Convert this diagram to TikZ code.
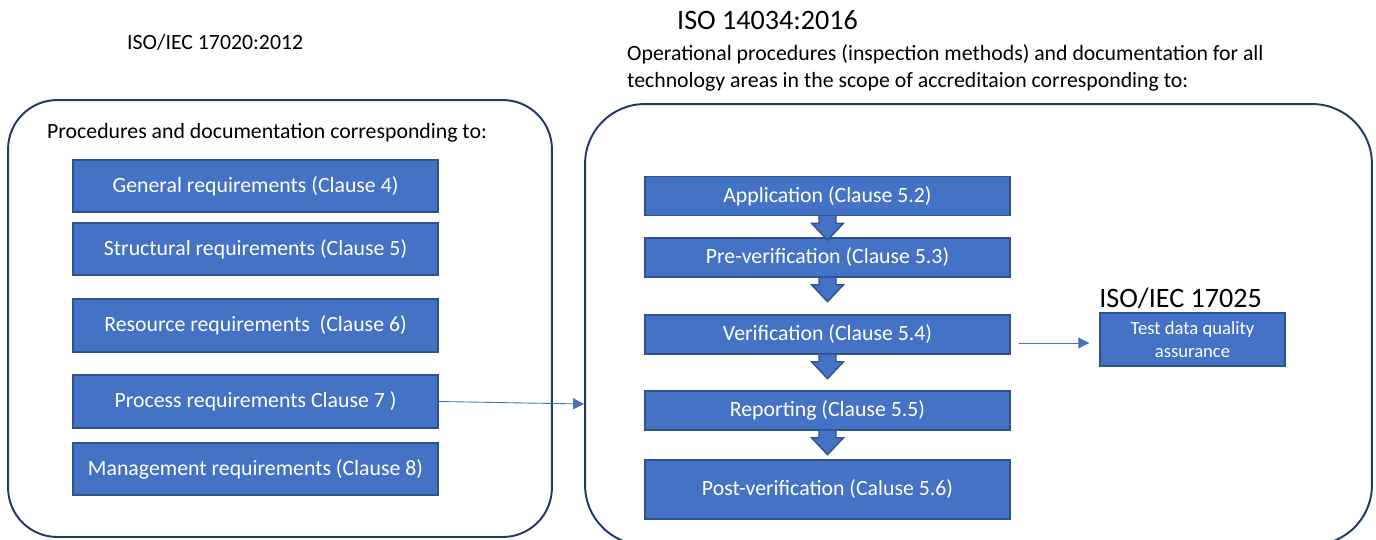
\documentclass[tikz,border=0pt]{standalone}
\usepackage{fontspec}
\setmainfont{Carlito}
\usetikzlibrary{arrows.meta,positioning,calc}
\definecolor{boxFill}{HTML}{4472C4}
\definecolor{boxBd}{HTML}{2F528F}
\definecolor{frameBd}{HTML}{1F3864}
\definecolor{linkLine}{HTML}{4472C4}
\tikzset{
  frame/.style={rectangle, draw=frameBd, line width=1.1pt, rounded corners=28pt},
  clause/.style={
    rectangle, draw=boxBd, fill=boxFill, line width=0.8pt,
    text=white, align=center, font=\fontsize{12.4}{15}\selectfont,
    minimum width=7.3cm, inner sep=2pt
  },
  drop/.style={draw=boxBd, fill=boxFill, line width=0.8pt, line join=miter},
  link/.style={-{Triangle[length=2.2mm,width=2.2mm]}, draw=linkLine, line width=0.5pt},
  head/.style={font=\fontsize{16}{19}\selectfont, anchor=west},
  note/.style={font=\fontsize{12.4}{15.4}\selectfont, anchor=west, align=left}
}
\begin{document}
\begin{tikzpicture}[x=0.02cm, y=-0.02cm]
  \useasboundingbox (0,0) rectangle (1376,539);
  % --- frames
  \node[frame, minimum width=10.88cm, minimum height=8.74cm] (frameA) at (280,318.5) {};
  \node[frame, rounded corners=34pt, minimum width=15.74cm, minimum height=8.82cm] (frameB) at (978.5,324.5) {};

  % --- headings
  \node[note] (isoA) at (121,42) {ISO/IEC 17020:2012};
  \node[head] (isoB) at (671,20) {ISO 14034:2016};
  \node[note] (scopeB) at (621,68) {Operational procedures (inspection methods) and documentation for all\\technology areas in the scope of accreditaion corresponding to:};
  \node[note] (scopeA) at (41,133) {Procedures and documentation corresponding to:};

  % --- left column: ISO/IEC 17020 clauses
  \node[clause, minimum height=1.04cm] (gen) at (255.5,186) {General requirements (Clause 4)};
  \node[clause, minimum height=1.04cm] (str) at (255.5,249) {Structural requirements (Clause 5)};
  \node[clause, minimum height=1.06cm] (res) at (255.5,325.5) {Resource requirements ~(Clause 6)};
  \node[clause, minimum height=1.06cm] (pro) at (255.5,401.5) {Process requirements Clause 7 )};
  \node[clause, minimum height=1.04cm] (man) at (255.5,469) {Management requirements (Clause 8)};

  % --- right column: ISO 14034 steps
  \node[clause, minimum height=0.78cm] (app) at (827.5,196) {Application (Clause 5.2)};
  \node[clause, minimum height=0.78cm] (pre) at (827.5,257.5) {Pre-verification (Clause 5.3)};
  \node[clause, minimum height=0.78cm] (ver) at (827.5,334.5) {Verification (Clause 5.4)};
  \node[clause, minimum height=0.78cm] (rep) at (827.5,410.5) {Reporting (Clause 5.5)};
  \node[clause, minimum height=1.18cm] (pst) at (827.5,489.5) {Post-verification (Caluse 5.6)};

  % --- ISO/IEC 17025
  \node[head, anchor=south west, inner sep=0pt] (isoC) at (1099,309) {ISO/IEC 17025};
  \node[clause, minimum width=3.7cm, minimum height=1.06cm,
        font=\fontsize{10.6}{13}\selectfont] (tdq) at (1192.5,339.5) {Test data quality\\assurance};

  % --- block arrows below each step
  \foreach \a in {app, pre, ver, rep}{
    \draw[drop] ($(\a.south)+(-8.5,0)$) -- ++(0,7) -- ++(-7.5,0)
      -- ++(16,17) -- ++(16,-17) -- ++(-7.5,0) -- ++(0,-7);
  }

  % --- links
  \draw[link] (pro.east) -- ($(frameB.west |- pro.east)+(0,2.5)$);
  \draw[link] ($(ver.east)+(8,8.5)$) -- ($(tdq.west)+(-10,3.5)$);
\end{tikzpicture}
\end{document}
